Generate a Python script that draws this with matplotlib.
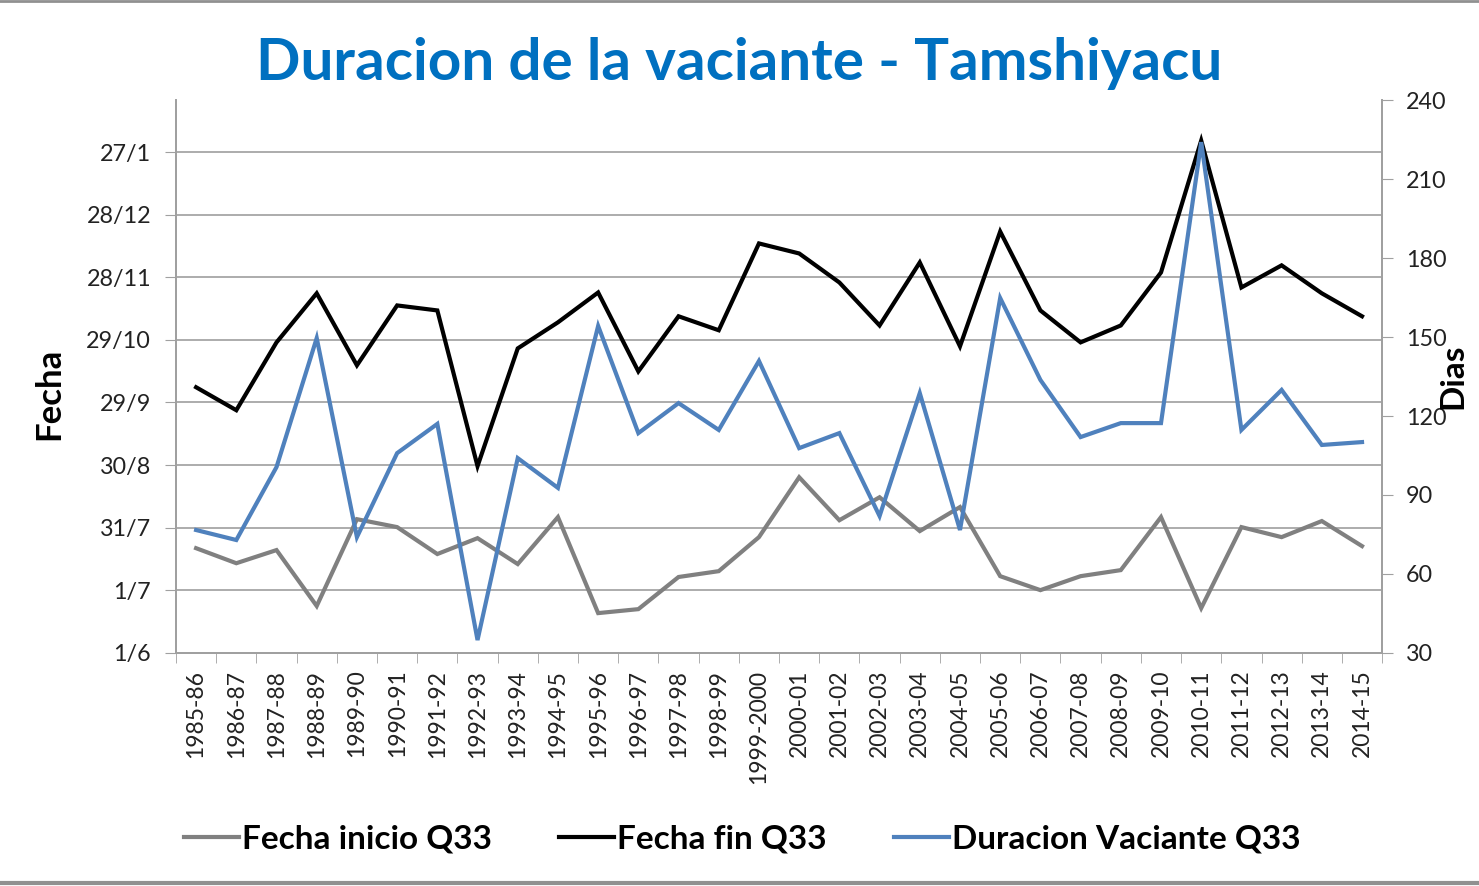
import matplotlib.pyplot as plt
from matplotlib.lines import Line2D

# seasons
seasons = ['1985-86', '1986-87', '1987-88', '1988-89', '1989-90', '1990-91',
           '1991-92', '1992-93', '1993-94', '1994-95', '1995-96', '1996-97',
           '1997-98', '1998-99', '1999-2000', '2000-01', '2001-02', '2002-03',
           '2003-04', '2004-05', '2005-06', '2006-07', '2007-08', '2008-09',
           '2009-10', '2010-11', '2011-12', '2012-13', '2013-14', '2014-15']

# start / end dates as days counted from 1 June
fecha_inicio = [50.2, 43.0, 49.3, 22.5, 64.1, 60.3, 47.4, 55.0, 42.6, 65.1,
                19.1, 21.0, 36.4, 39.2, 55.5, 84.2, 63.6, 74.6, 58.4, 69.9,
                36.8, 30.1, 36.8, 39.7, 65.1, 21.5, 60.3, 55.5, 63.2, 51.2]
fecha_fin = [127.3, 116.3, 148.8, 172.3, 137.8, 166.5, 164.1, 89.5, 145.9, 158.4,
             172.7, 134.9, 161.3, 154.6, 196.2, 191.4, 177.5, 156.9, 187.1, 146.9,
             201.9, 164.1, 148.8, 156.9, 182.3, 245.5, 175.1, 185.7, 172.3, 161.3]
# duration in days (right axis)
duracion = [76.7, 72.9, 100.6, 149.6, 74.0, 105.9, 117.0, 34.9, 104.0, 92.7,
            154.2, 113.5, 124.9, 114.7, 140.9, 107.8, 113.5, 82.0, 128.7, 76.7,
            164.8, 133.7, 112.0, 117.3, 117.3, 224.0, 114.7, 129.9, 109.0, 110.1]

date_ticks = [0, 30, 60, 90, 120, 150, 180, 210, 240]
date_labels = ['1/6', '1/7', '31/7', '30/8', '29/9', '29/10', '28/11', '28/12', '27/1']
dias_ticks = [30, 60, 90, 120, 150, 180, 210, 240]

plt.rcParams['font.family'] = ['Lato', 'DejaVu Sans']

fig = plt.figure(figsize=(14.79, 8.86), dpi=100)
ax = fig.add_axes([0.119, 0.263, 0.8155, 0.6241])
ax2 = ax.twinx()

x = list(range(len(seasons)))
ax.plot(x, fecha_inicio, color='#808080', lw=3, solid_joinstyle='miter', zorder=3)
ax.plot(x, fecha_fin, color='black', lw=3, solid_joinstyle='miter', zorder=3)
ax2.plot(x, duracion, color='#4F81BD', lw=3, solid_joinstyle='miter', zorder=3)

ax.set_xlim(-0.5, len(seasons) - 0.5)
ax.set_ylim(0, 264.9)
ax2.set_ylim(30, 240)

ax.set_yticks(date_ticks)
ax.set_yticklabels(date_labels, fontsize=16.8, color='#222222')
ax2.set_yticks(dias_ticks)
ax2.set_yticklabels([str(v) for v in dias_ticks], fontsize=16.8, color='#222222')

ax.set_xticks(x)
ax.set_xticklabels(seasons, rotation=90, fontsize=16.5, color='#222222')
ax.set_xticks([i - 0.5 for i in range(len(seasons) + 1)], minor=True)
ax.tick_params(axis='x', which='major', length=0, pad=12)
ax.tick_params(axis='x', which='minor', length=7, color='#a0a0a0')
ax.tick_params(axis='y', length=8, color='#a0a0a0', pad=10)
ax2.tick_params(axis='y', length=8, color='#a0a0a0', pad=9)

ax.grid(axis='y', color='#a6a6a6', lw=1.3)
ax.set_axisbelow(True)
ax.spines['top'].set_visible(False)
ax2.spines['top'].set_visible(False)
for a in (ax, ax2):
    for s in ['left', 'right', 'bottom']:
        a.spines[s].set_color('#a0a0a0')
        a.spines[s].set_linewidth(1.3)

ax.set_ylabel('Fecha', fontsize=25, fontweight='bold')
ax.yaxis.set_label_coords(-0.092, 0.468)
ax2.set_ylabel('Dias', fontsize=24, fontweight='bold', labelpad=-6)

fig.text(0.4997, 0.928, 'Duracion de la vaciante - Tamshiyacu', ha='center', va='center',
         fontsize=42, fontweight='bold', color='#0070C0')

handles = [Line2D([], [], color='#808080', lw=3),
           Line2D([], [], color='black', lw=3),
           Line2D([], [], color='#4F81BD', lw=3)]
fig.legend(handles, ['Fecha inicio Q33', 'Fecha fin Q33', 'Duracion Vaciante Q33'],
           loc='center', bbox_to_anchor=(0.502, 0.053), ncol=3, frameon=False,
           prop={'size': 24, 'weight': 'bold'}, handlelength=1.65, handletextpad=0.1,
           columnspacing=2.0)

# thin frame lines at top and bottom of the image
fig.add_artist(Line2D([0, 1], [0.999, 0.999], color='#909090', lw=2))
fig.add_artist(Line2D([0, 1], [0.003, 0.003], color='#909090', lw=3))

fig.savefig('out.png', dpi=100)
